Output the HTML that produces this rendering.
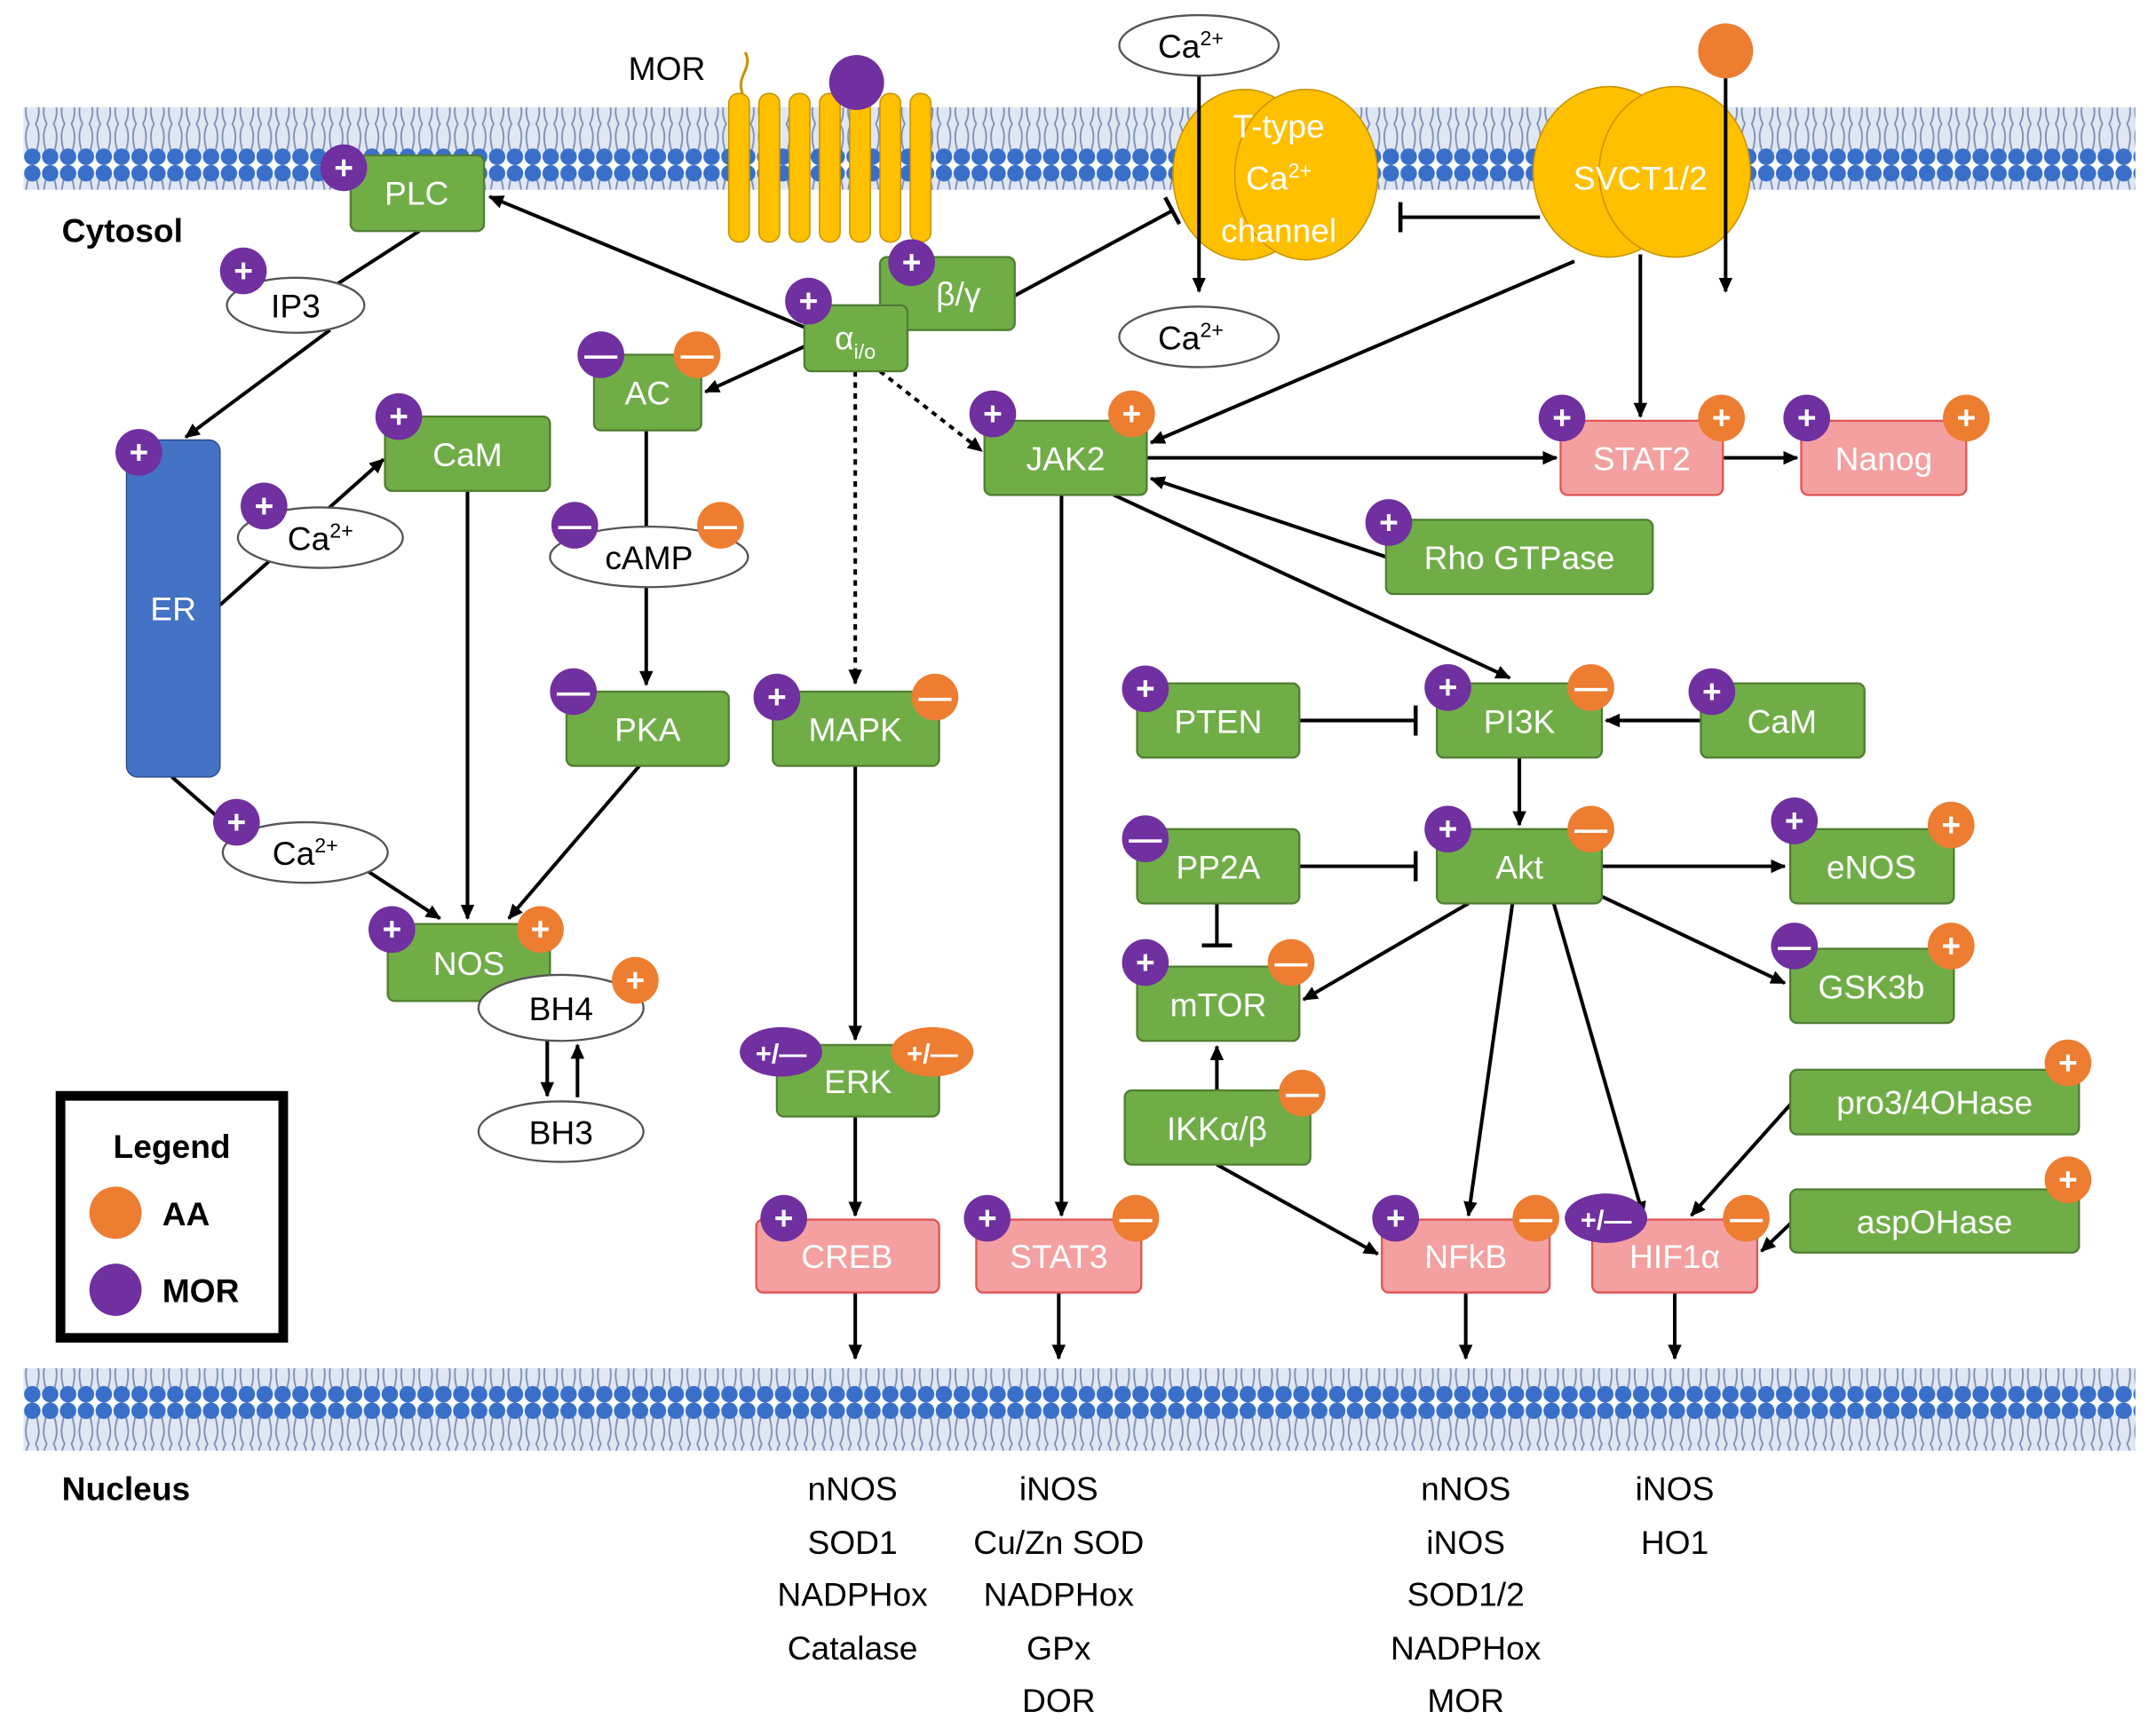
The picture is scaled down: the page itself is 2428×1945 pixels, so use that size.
<!DOCTYPE html>
<html><head><meta charset="utf-8"><style>
html,body{margin:0;padding:0;background:#fff;}
svg{display:block;}
text{font-family:"Liberation Sans",sans-serif;}
</style></head><body>
<svg width="2428" height="1945" viewBox="0 0 1568 1256" preserveAspectRatio="none" xmlns="http://www.w3.org/2000/svg">
<defs>
<pattern id="mem" x="17" y="0" width="13" height="60" patternUnits="userSpaceOnUse">
<rect x="0" y="8" width="13" height="44" fill="#dfe7f5"/>
<path d="M4,8 C1,20 1,24 4,30 C1,36 1,42 4,52 M9,8 C12,20 12,24 9,30 C12,36 12,42 9,52" stroke="#7f8fb0" stroke-width="1.2" fill="none"/>
<circle cx="6.5" cy="6" r="6" fill="#3a6fc9"/>
<circle cx="6.5" cy="54" r="6" fill="#3a6fc9"/>
</pattern>
<marker id="a" markerWidth="12" markerHeight="12" refX="10" refY="6" orient="auto" markerUnits="userSpaceOnUse"><path d="M0,1 L11,6 L0,11 z" fill="#000"/></marker>
<marker id="b" markerWidth="4" markerHeight="22" refX="2" refY="11" orient="auto" markerUnits="userSpaceOnUse"><rect x="0" y="0" width="3" height="22" fill="#000"/></marker>
</defs>
<rect x="17" y="78" width="1536" height="60" fill="url(#mem)"/>
<rect x="17" y="995" width="1536" height="60" fill="url(#mem)"/>

<g stroke="#000" stroke-width="2.6" fill="none">
<line x1="585" y1="238" x2="356" y2="143" marker-end="url(#a)"/>
<line x1="585" y1="252" x2="513" y2="285" marker-end="url(#a)"/>
<line x1="622" y1="270" x2="622" y2="497" stroke-dasharray="4,4" marker-end="url(#a)"/>
<line x1="640" y1="270" x2="714" y2="328" stroke-dasharray="4,4" marker-end="url(#a)"/>
<line x1="1120" y1="158" x2="1018" y2="158" marker-end="url(#b)"/>
<line x1="305" y1="168" x2="240" y2="210"/>
<line x1="240" y1="240" x2="135" y2="318" marker-end="url(#a)"/>
<line x1="160" y1="440" x2="279" y2="334" marker-end="url(#a)"/>
<line x1="125" y1="565" x2="165" y2="600"/>
<line x1="265" y1="632" x2="320" y2="668" marker-end="url(#a)"/>
<line x1="340" y1="357" x2="340" y2="668" marker-end="url(#a)"/>
<line x1="470" y1="313" x2="470" y2="385"/>
<line x1="470" y1="425" x2="470" y2="498" marker-end="url(#a)"/>
<line x1="465" y1="557" x2="370" y2="668" marker-end="url(#a)"/>
<line x1="398" y1="756" x2="398" y2="797" marker-end="url(#a)"/>
<line x1="420" y1="798" x2="420" y2="760" marker-end="url(#a)"/>
<line x1="622" y1="557" x2="622" y2="756" marker-end="url(#a)"/>
<line x1="622" y1="812" x2="622" y2="884" marker-end="url(#a)"/>
<line x1="772" y1="360" x2="772" y2="884" marker-end="url(#a)"/>
<line x1="834" y1="333" x2="1132" y2="333" marker-end="url(#a)"/>
<line x1="1253" y1="333" x2="1307" y2="333" marker-end="url(#a)"/>
<line x1="1145" y1="190" x2="837" y2="322" marker-end="url(#a)"/>
<line x1="1193" y1="185" x2="1193" y2="303" marker-end="url(#a)"/>
<line x1="1008" y1="405" x2="837" y2="348" marker-end="url(#a)"/>
<line x1="810" y1="360" x2="1098" y2="493" marker-end="url(#a)"/>
<line x1="945" y1="524" x2="1030" y2="524" marker-end="url(#b)"/>
<line x1="1237" y1="524" x2="1168" y2="524" marker-end="url(#a)"/>
<line x1="1105" y1="551" x2="1105" y2="600" marker-end="url(#a)"/>
<line x1="945" y1="630" x2="1030" y2="630" marker-end="url(#b)"/>
<line x1="885" y1="657" x2="885" y2="688" marker-end="url(#b)"/>
<line x1="1165" y1="630" x2="1298" y2="630" marker-end="url(#a)"/>
<line x1="1165" y1="652" x2="1298" y2="715" marker-end="url(#a)"/>
<line x1="1068" y1="657" x2="948" y2="727" marker-end="url(#a)"/>
<line x1="1100" y1="657" x2="1068" y2="884" marker-end="url(#a)"/>
<line x1="1130" y1="657" x2="1195" y2="884" marker-end="url(#a)"/>
<line x1="885" y1="793" x2="885" y2="761" marker-end="url(#a)"/>
<line x1="885" y1="847" x2="1002" y2="912" marker-end="url(#a)"/>
<line x1="1305" y1="800" x2="1230" y2="884" marker-end="url(#a)"/>
<line x1="1302" y1="890" x2="1281" y2="910" marker-end="url(#a)"/>
<line x1="622" y1="940" x2="622" y2="988" marker-end="url(#a)"/>
<line x1="770" y1="940" x2="770" y2="988" marker-end="url(#a)"/>
<line x1="1066" y1="940" x2="1066" y2="988" marker-end="url(#a)"/>
<line x1="1218" y1="940" x2="1218" y2="988" marker-end="url(#a)"/>
</g>

<!-- MOR receptor -->
<g fill="#ffc000" stroke="#c89400" stroke-width="1">
<rect x="530" y="68" width="15" height="108" rx="7"/><rect x="552" y="68" width="15" height="108" rx="7"/>
<rect x="574" y="68" width="15" height="108" rx="7"/><rect x="596" y="68" width="15" height="108" rx="7"/>
<rect x="618" y="68" width="15" height="108" rx="7"/><rect x="640" y="68" width="15" height="108" rx="7"/>
<rect x="662" y="68" width="15" height="108" rx="7"/>
</g>
<path d="M540,68 C535,55 548,50 542,38" stroke="#c89400" stroke-width="2" fill="none"/>
<circle cx="623" cy="60" r="20" fill="#7030a0"/>
<text x="485" y="58" font-size="24" text-anchor="middle">MOR</text>

<!-- Channels -->
<ellipse cx="905" cy="127" rx="52" ry="62" fill="#ffc000" stroke="#c89400"/>
<ellipse cx="950" cy="127" rx="52" ry="62" fill="#ffc000" stroke="#c89400"/>
<text x="930" y="100" font-size="24" fill="#fff" text-anchor="middle">T-type</text>
<text x="930" y="138" font-size="24" fill="#fff" text-anchor="middle">Ca<tspan font-size="15" dy="-9">2+</tspan></text>
<text x="930" y="176" font-size="24" fill="#fff" text-anchor="middle">channel</text>
<ellipse cx="1170" cy="125" rx="55" ry="62" fill="#ffc000" stroke="#c89400"/>
<ellipse cx="1218" cy="125" rx="55" ry="62" fill="#ffc000" stroke="#c89400"/>
<text x="1193" y="138" font-size="24" fill="#fff" text-anchor="middle">SVCT1/2</text>
<circle cx="1255" cy="37" r="20" fill="#ed7d31"/>
<g stroke="#000" stroke-width="2.6" fill="none">
<line x1="872" y1="55" x2="872" y2="212" marker-end="url(#a)"/>
<line x1="1255" y1="57" x2="1255" y2="212" marker-end="url(#a)"/>
<line x1="738" y1="215" x2="853" y2="153" marker-end="url(#b)"/>
</g>

<!-- ellipses -->
<g fill="#fff" stroke="#555" stroke-width="1.5">
<ellipse cx="872" cy="33" rx="58" ry="22"/>
<ellipse cx="872" cy="245" rx="58" ry="22"/>
<ellipse cx="215" cy="222" rx="50" ry="20"/>
<ellipse cx="233" cy="391" rx="60" ry="22"/>
<ellipse cx="472" cy="405" rx="72" ry="22"/>
<ellipse cx="222" cy="620" rx="60" ry="22"/>
<ellipse cx="408" cy="823" rx="60" ry="22"/>
</g>
<g font-size="24" text-anchor="middle">
<text x="866" y="42">Ca<tspan font-size="15" dy="-9">2+</tspan></text>
<text x="866" y="254">Ca<tspan font-size="15" dy="-9">2+</tspan></text>
<text x="215" y="231">IP3</text>
<text x="233" y="400">Ca<tspan font-size="15" dy="-9">2+</tspan></text>
<text x="472" y="414">cAMP</text>
<text x="222" y="629">Ca<tspan font-size="15" dy="-9">2+</tspan></text>
<text x="408" y="832">BH3</text>
</g>

<!-- ER -->
<rect x="92" y="320" width="68" height="245" rx="8" fill="#4472c4" stroke="#2f528f"/>
<text x="126" y="451" font-size="24" fill="#fff" text-anchor="middle">ER</text>

<!-- green boxes -->
<g fill="#70ad47" stroke="#507e32" stroke-width="1.5">
<rect x="255" y="113" width="97" height="55" rx="5"/>
<rect x="640" y="187" width="98" height="53" rx="5"/>
<rect x="585" y="222" width="75" height="48" rx="5"/>
<rect x="280" y="303" width="120" height="54" rx="5"/>
<rect x="432" y="258" width="78" height="55" rx="5"/>
<rect x="412" y="503" width="118" height="54" rx="5"/>
<rect x="562" y="503" width="121" height="54" rx="5"/>
<rect x="282" y="672" width="118" height="56" rx="5"/>
<rect x="565" y="760" width="118" height="52" rx="5"/>
<rect x="716" y="306" width="118" height="54" rx="5"/>
<rect x="1008" y="378" width="194" height="54" rx="5"/>
<rect x="827" y="497" width="118" height="54" rx="5"/>
<rect x="1045" y="497" width="120" height="54" rx="5"/>
<rect x="1237" y="497" width="119" height="54" rx="5"/>
<rect x="827" y="603" width="118" height="54" rx="5"/>
<rect x="1045" y="603" width="120" height="54" rx="5"/>
<rect x="1302" y="603" width="119" height="54" rx="5"/>
<rect x="1302" y="690" width="119" height="54" rx="5"/>
<rect x="827" y="703" width="118" height="54" rx="5"/>
<rect x="818" y="793" width="135" height="54" rx="5"/>
<rect x="1302" y="778" width="210" height="47" rx="5"/>
<rect x="1302" y="865" width="210" height="46" rx="5"/>
</g>
<g fill="#f4a0a0" stroke="#e05555" stroke-width="1.5">
<rect x="550" y="887" width="133" height="53" rx="5"/>
<rect x="710" y="887" width="120" height="53" rx="5"/>
<rect x="1135" y="306" width="118" height="54" rx="5"/>
<rect x="1310" y="306" width="120" height="54" rx="5"/>
<rect x="1005" y="887" width="122" height="53" rx="5"/>
<rect x="1158" y="887" width="120" height="53" rx="5"/>
</g>
<g font-size="24" fill="#fff" text-anchor="middle">
<text x="303" y="149">PLC</text>
<text x="697" y="222">β/γ</text>
<text x="622" y="254">α<tspan font-size="15" dy="7">i/o</tspan></text>
<text x="340" y="339">CaM</text>
<text x="471" y="294">AC</text>
<text x="471" y="539">PKA</text>
<text x="622" y="539">MAPK</text>
<text x="341" y="709">NOS</text>
<text x="624" y="795">ERK</text>
<text x="775" y="342">JAK2</text>
<text x="1105" y="414">Rho GTPase</text>
<text x="886" y="533">PTEN</text>
<text x="1105" y="533">PI3K</text>
<text x="1296" y="533">CaM</text>
<text x="886" y="639">PP2A</text>
<text x="1105" y="639">Akt</text>
<text x="1361" y="639">eNOS</text>
<text x="1361" y="726">GSK3b</text>
<text x="886" y="739">mTOR</text>
<text x="885" y="829">IKKα/β</text>
<text x="1407" y="810">pro3/4OHase</text>
<text x="1407" y="897">aspOHase</text>
<text x="616" y="922">CREB</text>
<text x="770" y="922">STAT3</text>
<text x="1194" y="342">STAT2</text>
<text x="1370" y="342">Nanog</text>
<text x="1066" y="922">NFkB</text>
<text x="1218" y="922">HIF1α</text>
</g>

<ellipse cx="408" cy="733" rx="60" ry="24" fill="#fff" stroke="#555" stroke-width="1.5"/>
<text x="408" y="742" font-size="24" text-anchor="middle">BH4</text>

<!-- badges -->
<g font-size="24" fill="#fff" text-anchor="middle" font-weight="bold">
<g fill="#7030a0">
<circle cx="250" cy="122" r="17"/><circle cx="177" cy="197" r="17"/><circle cx="101" cy="329" r="17"/>
<circle cx="290" cy="303" r="17"/><circle cx="192" cy="368" r="17"/><circle cx="437" cy="258" r="17"/>
<circle cx="418" cy="382" r="17"/><circle cx="417" cy="503" r="17"/><circle cx="565" cy="507" r="17"/>
<circle cx="172" cy="598" r="17"/><circle cx="285" cy="676" r="17"/><circle cx="663" cy="191" r="17"/>
<circle cx="588" cy="219" r="17"/><circle cx="722" cy="301" r="17"/><circle cx="1136" cy="304" r="17"/>
<circle cx="1314" cy="304" r="17"/><circle cx="1010" cy="380" r="17"/><circle cx="833" cy="501" r="17"/>
<circle cx="1053" cy="500" r="17"/><circle cx="1245" cy="503" r="17"/><circle cx="833" cy="610" r="17"/>
<circle cx="1053" cy="603" r="17"/><circle cx="1305" cy="597" r="17"/><circle cx="1305" cy="688" r="17"/>
<circle cx="833" cy="700" r="17"/><circle cx="570" cy="886" r="17"/><circle cx="718" cy="886" r="17"/>
<circle cx="1015" cy="886" r="17"/>
<ellipse cx="568" cy="765" rx="30" ry="18"/><ellipse cx="1168" cy="886" rx="30" ry="18"/>
</g>
<g fill="#ed7d31">
<circle cx="507" cy="258" r="17"/><circle cx="524" cy="382" r="17"/><circle cx="680" cy="507" r="17"/>
<circle cx="393" cy="676" r="17"/><circle cx="462" cy="713" r="17"/><circle cx="823" cy="301" r="17"/>
<circle cx="1252" cy="304" r="17"/><circle cx="1430" cy="304" r="17"/><circle cx="1157" cy="500" r="17"/>
<circle cx="1157" cy="603" r="17"/><circle cx="1419" cy="600" r="17"/><circle cx="1419" cy="688" r="17"/>
<circle cx="939" cy="700" r="17"/><circle cx="947" cy="795" r="17"/><circle cx="1504" cy="773" r="17"/>
<circle cx="1504" cy="858" r="17"/><circle cx="826" cy="886" r="17"/><circle cx="1117" cy="886" r="17"/>
<circle cx="1270" cy="886" r="17"/>
<ellipse cx="678" cy="765" rx="30" ry="18"/>
</g>
<text x="250" y="130">+</text><text x="177" y="205">+</text><text x="101" y="337">+</text>
<text x="290" y="311">+</text><text x="192" y="376">+</text><text x="437" y="266">—</text>
<text x="418" y="390">—</text><text x="417" y="511">—</text><text x="565" y="515">+</text>
<text x="172" y="606">+</text><text x="285" y="684">+</text><text x="663" y="199">+</text>
<text x="588" y="227">+</text><text x="722" y="309">+</text><text x="1136" y="312">+</text>
<text x="1314" y="312">+</text><text x="1010" y="388">+</text><text x="833" y="509">+</text>
<text x="1053" y="508">+</text><text x="1245" y="511">+</text><text x="833" y="618">—</text>
<text x="1053" y="611">+</text><text x="1305" y="605">+</text><text x="1305" y="696">—</text>
<text x="833" y="708">+</text><text x="570" y="894">+</text><text x="718" y="894">+</text>
<text x="1015" y="894">+</text>
<text x="568" y="773" font-size="20">+/—</text><text x="1168" y="894" font-size="20">+/—</text>
<text x="507" y="266">—</text><text x="524" y="390">—</text><text x="680" y="515">—</text>
<text x="393" y="684">+</text><text x="462" y="721">+</text><text x="823" y="309">+</text>
<text x="1252" y="312">+</text><text x="1430" y="312">+</text><text x="1157" y="508">—</text>
<text x="1157" y="611">—</text><text x="1419" y="608">+</text><text x="1419" y="696">+</text>
<text x="939" y="708">—</text><text x="947" y="803">—</text><text x="1504" y="781">+</text>
<text x="1504" y="866">+</text><text x="826" y="894">—</text><text x="1117" y="894">—</text>
<text x="1270" y="894">—</text>
<text x="678" y="773" font-size="20">+/—</text>
</g>

<!-- legend -->
<rect x="44" y="797" width="162" height="176" fill="#fff" stroke="#000" stroke-width="7"/>
<text x="125" y="842" font-size="24" font-weight="bold" text-anchor="middle">Legend</text>
<circle cx="84" cy="882" r="19" fill="#ed7d31"/>
<text x="118" y="891" font-size="24" font-weight="bold">AA</text>
<circle cx="84" cy="938" r="19" fill="#7030a0"/>
<text x="118" y="947" font-size="24" font-weight="bold">MOR</text>

<text x="45" y="176" font-size="24" font-weight="bold">Cytosol</text>
<text x="45" y="1091" font-size="24" font-weight="bold">Nucleus</text>

<g font-size="24" text-anchor="middle">
<text x="620" y="1091">nNOS</text><text x="620" y="1130">SOD1</text><text x="620" y="1168">NADPHox</text><text x="620" y="1207">Catalase</text>
<text x="770" y="1091">iNOS</text><text x="770" y="1130">Cu/Zn SOD</text><text x="770" y="1168">NADPHox</text><text x="770" y="1207">GPx</text><text x="770" y="1245">DOR</text>
<text x="1066" y="1091">nNOS</text><text x="1066" y="1130">iNOS</text><text x="1066" y="1168">SOD1/2</text><text x="1066" y="1207">NADPHox</text><text x="1066" y="1245">MOR</text>
<text x="1218" y="1091">iNOS</text><text x="1218" y="1130">HO1</text>
</g>
</svg>
</body></html>
